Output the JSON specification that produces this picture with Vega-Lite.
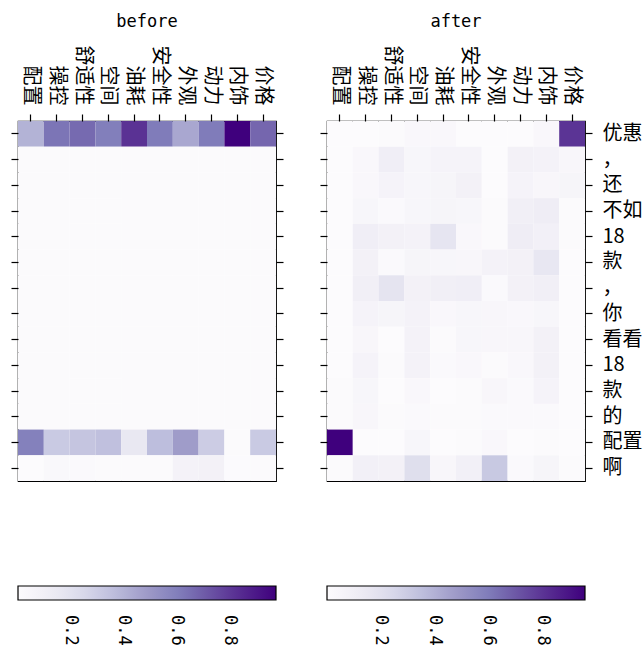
{
  "$schema": "https://vega.github.io/schema/vega-lite/v6.json",
  "padding": {"left": 9, "top": 12, "right": 0, "bottom": 0},
  "background": "white",
  "config": {
    "view": {"stroke": "black", "strokeWidth": 1.2},
    "axis": {"domain": false, "grid": false, "title": null, "tickColor": "black", "tickSize": 7, "tickWidth": 1.2, "labelColor": "black", "labelFont": "Noto Sans CJK SC", "labelFontSize": 20},
    "title": {"font": "DejaVu Sans Mono", "fontSize": 17, "fontWeight": "normal", "color": "black", "anchor": "middle", "frame": "group", "offset": 14},
    "legend": {"orient": "none", "legendX": 0, "legendY": 465, "direction": "horizontal", "title": null, "gradientLength": 258, "gradientThickness": 14, "gradientStrokeColor": "black", "gradientStrokeWidth": 1.2, "labelFont": "DejaVu Sans Mono", "labelFontSize": 17, "labelColor": "black", "labelAlign": "left", "labelBaseline": "middle", "labelOffset": 4, "labelOverlap": false}
  },
  "datasets": {
    "before": [
      {"a":"配置","r":0,"t":"优惠","w":0.40},{"a":"操控","r":0,"t":"优惠","w":0.63},{"a":"舒适性","r":0,"t":"优惠","w":0.66},{"a":"空间","r":0,"t":"优惠","w":0.60},{"a":"油耗","r":0,"t":"优惠","w":0.82},{"a":"安全性","r":0,"t":"优惠","w":0.61},{"a":"外观","r":0,"t":"优惠","w":0.44},{"a":"动力","r":0,"t":"优惠","w":0.61},{"a":"内饰","r":0,"t":"优惠","w":0.972},{"a":"价格","r":0,"t":"优惠","w":0.67},
      {"a":"配置","r":1,"t":"，","w":0.008},{"a":"操控","r":1,"t":"，","w":0.008},{"a":"舒适性","r":1,"t":"，","w":0.008},{"a":"空间","r":1,"t":"，","w":0.008},{"a":"油耗","r":1,"t":"，","w":0.008},{"a":"安全性","r":1,"t":"，","w":0.008},{"a":"外观","r":1,"t":"，","w":0.008},{"a":"动力","r":1,"t":"，","w":0.008},{"a":"内饰","r":1,"t":"，","w":0.008},{"a":"价格","r":1,"t":"，","w":0.008},
      {"a":"配置","r":2,"t":"还","w":0.008},{"a":"操控","r":2,"t":"还","w":0.008},{"a":"舒适性","r":2,"t":"还","w":0.008},{"a":"空间","r":2,"t":"还","w":0.008},{"a":"油耗","r":2,"t":"还","w":0.008},{"a":"安全性","r":2,"t":"还","w":0.008},{"a":"外观","r":2,"t":"还","w":0.008},{"a":"动力","r":2,"t":"还","w":0.008},{"a":"内饰","r":2,"t":"还","w":0.008},{"a":"价格","r":2,"t":"还","w":0.008},
      {"a":"配置","r":3,"t":"不如","w":0.008},{"a":"操控","r":3,"t":"不如","w":0.008},{"a":"舒适性","r":3,"t":"不如","w":0.008},{"a":"空间","r":3,"t":"不如","w":0.008},{"a":"油耗","r":3,"t":"不如","w":0.008},{"a":"安全性","r":3,"t":"不如","w":0.008},{"a":"外观","r":3,"t":"不如","w":0.008},{"a":"动力","r":3,"t":"不如","w":0.008},{"a":"内饰","r":3,"t":"不如","w":0.008},{"a":"价格","r":3,"t":"不如","w":0.008},
      {"a":"配置","r":4,"t":"18","w":0.008},{"a":"操控","r":4,"t":"18","w":0.008},{"a":"舒适性","r":4,"t":"18","w":0.008},{"a":"空间","r":4,"t":"18","w":0.008},{"a":"油耗","r":4,"t":"18","w":0.008},{"a":"安全性","r":4,"t":"18","w":0.008},{"a":"外观","r":4,"t":"18","w":0.008},{"a":"动力","r":4,"t":"18","w":0.008},{"a":"内饰","r":4,"t":"18","w":0.008},{"a":"价格","r":4,"t":"18","w":0.008},
      {"a":"配置","r":5,"t":"款","w":0.008},{"a":"操控","r":5,"t":"款","w":0.008},{"a":"舒适性","r":5,"t":"款","w":0.008},{"a":"空间","r":5,"t":"款","w":0.008},{"a":"油耗","r":5,"t":"款","w":0.008},{"a":"安全性","r":5,"t":"款","w":0.008},{"a":"外观","r":5,"t":"款","w":0.008},{"a":"动力","r":5,"t":"款","w":0.008},{"a":"内饰","r":5,"t":"款","w":0.008},{"a":"价格","r":5,"t":"款","w":0.008},
      {"a":"配置","r":6,"t":"，","w":0.008},{"a":"操控","r":6,"t":"，","w":0.008},{"a":"舒适性","r":6,"t":"，","w":0.008},{"a":"空间","r":6,"t":"，","w":0.008},{"a":"油耗","r":6,"t":"，","w":0.008},{"a":"安全性","r":6,"t":"，","w":0.008},{"a":"外观","r":6,"t":"，","w":0.008},{"a":"动力","r":6,"t":"，","w":0.008},{"a":"内饰","r":6,"t":"，","w":0.008},{"a":"价格","r":6,"t":"，","w":0.008},
      {"a":"配置","r":7,"t":"你","w":0.008},{"a":"操控","r":7,"t":"你","w":0.008},{"a":"舒适性","r":7,"t":"你","w":0.008},{"a":"空间","r":7,"t":"你","w":0.008},{"a":"油耗","r":7,"t":"你","w":0.008},{"a":"安全性","r":7,"t":"你","w":0.008},{"a":"外观","r":7,"t":"你","w":0.008},{"a":"动力","r":7,"t":"你","w":0.008},{"a":"内饰","r":7,"t":"你","w":0.008},{"a":"价格","r":7,"t":"你","w":0.008},
      {"a":"配置","r":8,"t":"看看","w":0.008},{"a":"操控","r":8,"t":"看看","w":0.008},{"a":"舒适性","r":8,"t":"看看","w":0.008},{"a":"空间","r":8,"t":"看看","w":0.008},{"a":"油耗","r":8,"t":"看看","w":0.008},{"a":"安全性","r":8,"t":"看看","w":0.008},{"a":"外观","r":8,"t":"看看","w":0.008},{"a":"动力","r":8,"t":"看看","w":0.008},{"a":"内饰","r":8,"t":"看看","w":0.008},{"a":"价格","r":8,"t":"看看","w":0.008},
      {"a":"配置","r":9,"t":"18","w":0.008},{"a":"操控","r":9,"t":"18","w":0.008},{"a":"舒适性","r":9,"t":"18","w":0.008},{"a":"空间","r":9,"t":"18","w":0.008},{"a":"油耗","r":9,"t":"18","w":0.008},{"a":"安全性","r":9,"t":"18","w":0.008},{"a":"外观","r":9,"t":"18","w":0.008},{"a":"动力","r":9,"t":"18","w":0.008},{"a":"内饰","r":9,"t":"18","w":0.008},{"a":"价格","r":9,"t":"18","w":0.008},
      {"a":"配置","r":10,"t":"款","w":0.008},{"a":"操控","r":10,"t":"款","w":0.008},{"a":"舒适性","r":10,"t":"款","w":0.008},{"a":"空间","r":10,"t":"款","w":0.008},{"a":"油耗","r":10,"t":"款","w":0.008},{"a":"安全性","r":10,"t":"款","w":0.008},{"a":"外观","r":10,"t":"款","w":0.008},{"a":"动力","r":10,"t":"款","w":0.008},{"a":"内饰","r":10,"t":"款","w":0.008},{"a":"价格","r":10,"t":"款","w":0.008},
      {"a":"配置","r":11,"t":"的","w":0.008},{"a":"操控","r":11,"t":"的","w":0.008},{"a":"舒适性","r":11,"t":"的","w":0.008},{"a":"空间","r":11,"t":"的","w":0.008},{"a":"油耗","r":11,"t":"的","w":0.008},{"a":"安全性","r":11,"t":"的","w":0.008},{"a":"外观","r":11,"t":"的","w":0.008},{"a":"动力","r":11,"t":"的","w":0.008},{"a":"内饰","r":11,"t":"的","w":0.008},{"a":"价格","r":11,"t":"的","w":0.008},
      {"a":"配置","r":12,"t":"配置","w":0.59},{"a":"操控","r":12,"t":"配置","w":0.31},{"a":"舒适性","r":12,"t":"配置","w":0.33},{"a":"空间","r":12,"t":"配置","w":0.35},{"a":"油耗","r":12,"t":"配置","w":0.155},{"a":"安全性","r":12,"t":"配置","w":0.36},{"a":"外观","r":12,"t":"配置","w":0.48},{"a":"动力","r":12,"t":"配置","w":0.30},{"a":"内饰","r":12,"t":"配置","w":0.01},{"a":"价格","r":12,"t":"配置","w":0.31},
      {"a":"配置","r":13,"t":"啊","w":0.0},{"a":"操控","r":13,"t":"啊","w":0.03},{"a":"舒适性","r":13,"t":"啊","w":0.02},{"a":"空间","r":13,"t":"啊","w":0.01},{"a":"油耗","r":13,"t":"啊","w":0.01},{"a":"安全性","r":13,"t":"啊","w":0.01},{"a":"外观","r":13,"t":"啊","w":0.075},{"a":"动力","r":13,"t":"啊","w":0.085},{"a":"内饰","r":13,"t":"啊","w":0.005},{"a":"价格","r":13,"t":"啊","w":0.01}
    ],
    "after": [
      {"a":"配置","r":0,"t":"优惠","w":0.0},{"a":"操控","r":0,"t":"优惠","w":0.0},{"a":"舒适性","r":0,"t":"优惠","w":0.01},{"a":"空间","r":0,"t":"优惠","w":0.03},{"a":"油耗","r":0,"t":"优惠","w":0.03},{"a":"安全性","r":0,"t":"优惠","w":0.0},{"a":"外观","r":0,"t":"优惠","w":0.0},{"a":"动力","r":0,"t":"优惠","w":0.0},{"a":"内饰","r":0,"t":"优惠","w":0.03},{"a":"价格","r":0,"t":"优惠","w":0.80},
      {"a":"配置","r":1,"t":"，","w":0.0},{"a":"操控","r":1,"t":"，","w":0.03},{"a":"舒适性","r":1,"t":"，","w":0.11},{"a":"空间","r":1,"t":"，","w":0.045},{"a":"油耗","r":1,"t":"，","w":0.065},{"a":"安全性","r":1,"t":"，","w":0.065},{"a":"外观","r":1,"t":"，","w":0.0},{"a":"动力","r":1,"t":"，","w":0.085},{"a":"内饰","r":1,"t":"，","w":0.075},{"a":"价格","r":1,"t":"，","w":0.04},
      {"a":"配置","r":2,"t":"还","w":0.0},{"a":"操控","r":2,"t":"还","w":0.03},{"a":"舒适性","r":2,"t":"还","w":0.065},{"a":"空间","r":2,"t":"还","w":0.045},{"a":"油耗","r":2,"t":"还","w":0.055},{"a":"安全性","r":2,"t":"还","w":0.085},{"a":"外观","r":2,"t":"还","w":0.0},{"a":"动力","r":2,"t":"还","w":0.065},{"a":"内饰","r":2,"t":"还","w":0.04},{"a":"价格","r":2,"t":"还","w":0.055},
      {"a":"配置","r":3,"t":"不如","w":0.0},{"a":"操控","r":3,"t":"不如","w":0.045},{"a":"舒适性","r":3,"t":"不如","w":0.02},{"a":"空间","r":3,"t":"不如","w":0.045},{"a":"油耗","r":3,"t":"不如","w":0.055},{"a":"安全性","r":3,"t":"不如","w":0.045},{"a":"外观","r":3,"t":"不如","w":0.01},{"a":"动力","r":3,"t":"不如","w":0.10},{"a":"内饰","r":3,"t":"不如","w":0.12},{"a":"价格","r":3,"t":"不如","w":0.01},
      {"a":"配置","r":4,"t":"18","w":0.0},{"a":"操控","r":4,"t":"18","w":0.11},{"a":"舒适性","r":4,"t":"18","w":0.085},{"a":"空间","r":4,"t":"18","w":0.075},{"a":"油耗","r":4,"t":"18","w":0.17},{"a":"安全性","r":4,"t":"18","w":0.03},{"a":"外观","r":4,"t":"18","w":0.01},{"a":"动力","r":4,"t":"18","w":0.12},{"a":"内饰","r":4,"t":"18","w":0.095},{"a":"价格","r":4,"t":"18","w":0.01},
      {"a":"配置","r":5,"t":"款","w":0.0},{"a":"操控","r":5,"t":"款","w":0.085},{"a":"舒适性","r":5,"t":"款","w":0.02},{"a":"空间","r":5,"t":"款","w":0.055},{"a":"油耗","r":5,"t":"款","w":0.045},{"a":"安全性","r":5,"t":"款","w":0.04},{"a":"外观","r":5,"t":"款","w":0.075},{"a":"动力","r":5,"t":"款","w":0.085},{"a":"内饰","r":5,"t":"款","w":0.16},{"a":"价格","r":5,"t":"款","w":0.0},
      {"a":"配置","r":6,"t":"，","w":0.0},{"a":"操控","r":6,"t":"，","w":0.10},{"a":"舒适性","r":6,"t":"，","w":0.175},{"a":"空间","r":6,"t":"，","w":0.085},{"a":"油耗","r":6,"t":"，","w":0.10},{"a":"安全性","r":6,"t":"，","w":0.11},{"a":"外观","r":6,"t":"，","w":0.02},{"a":"动力","r":6,"t":"，","w":0.085},{"a":"内饰","r":6,"t":"，","w":0.10},{"a":"价格","r":6,"t":"，","w":0.0},
      {"a":"配置","r":7,"t":"你","w":0.0},{"a":"操控","r":7,"t":"你","w":0.065},{"a":"舒适性","r":7,"t":"你","w":0.055},{"a":"空间","r":7,"t":"你","w":0.075},{"a":"油耗","r":7,"t":"你","w":0.03},{"a":"安全性","r":7,"t":"你","w":0.045},{"a":"外观","r":7,"t":"你","w":0.04},{"a":"动力","r":7,"t":"你","w":0.03},{"a":"内饰","r":7,"t":"你","w":0.045},{"a":"价格","r":7,"t":"你","w":0.0},
      {"a":"配置","r":8,"t":"看看","w":0.0},{"a":"操控","r":8,"t":"看看","w":0.04},{"a":"舒适性","r":8,"t":"看看","w":0.0},{"a":"空间","r":8,"t":"看看","w":0.075},{"a":"油耗","r":8,"t":"看看","w":0.01},{"a":"安全性","r":8,"t":"看看","w":0.045},{"a":"外观","r":8,"t":"看看","w":0.04},{"a":"动力","r":8,"t":"看看","w":0.04},{"a":"内饰","r":8,"t":"看看","w":0.085},{"a":"价格","r":8,"t":"看看","w":0.0},
      {"a":"配置","r":9,"t":"18","w":0.0},{"a":"操控","r":9,"t":"18","w":0.065},{"a":"舒适性","r":9,"t":"18","w":0.01},{"a":"空间","r":9,"t":"18","w":0.075},{"a":"油耗","r":9,"t":"18","w":0.02},{"a":"安全性","r":9,"t":"18","w":0.03},{"a":"外观","r":9,"t":"18","w":0.01},{"a":"动力","r":9,"t":"18","w":0.03},{"a":"内饰","r":9,"t":"18","w":0.085},{"a":"价格","r":9,"t":"18","w":0.0},
      {"a":"配置","r":10,"t":"款","w":0.01},{"a":"操控","r":10,"t":"款","w":0.045},{"a":"舒适性","r":10,"t":"款","w":0.0},{"a":"空间","r":10,"t":"款","w":0.03},{"a":"油耗","r":10,"t":"款","w":0.0},{"a":"安全性","r":10,"t":"款","w":0.01},{"a":"外观","r":10,"t":"款","w":0.04},{"a":"动力","r":10,"t":"款","w":0.02},{"a":"内饰","r":10,"t":"款","w":0.065},{"a":"价格","r":10,"t":"款","w":0.0},
      {"a":"配置","r":11,"t":"的","w":0.01},{"a":"操控","r":11,"t":"的","w":0.04},{"a":"舒适性","r":11,"t":"的","w":0.01},{"a":"空间","r":11,"t":"的","w":0.02},{"a":"油耗","r":11,"t":"的","w":0.01},{"a":"安全性","r":11,"t":"的","w":0.01},{"a":"外观","r":11,"t":"的","w":0.02},{"a":"动力","r":11,"t":"的","w":0.02},{"a":"内饰","r":11,"t":"的","w":0.02},{"a":"价格","r":11,"t":"的","w":0.0},
      {"a":"配置","r":12,"t":"配置","w":0.957},{"a":"操控","r":12,"t":"配置","w":0.0},{"a":"舒适性","r":12,"t":"配置","w":0.0},{"a":"空间","r":12,"t":"配置","w":0.045},{"a":"油耗","r":12,"t":"配置","w":0.0},{"a":"安全性","r":12,"t":"配置","w":0.01},{"a":"外观","r":12,"t":"配置","w":0.03},{"a":"动力","r":12,"t":"配置","w":0.0},{"a":"内饰","r":12,"t":"配置","w":0.01},{"a":"价格","r":12,"t":"配置","w":0.0},
      {"a":"配置","r":13,"t":"啊","w":0.01},{"a":"操控","r":13,"t":"啊","w":0.095},{"a":"舒适性","r":13,"t":"啊","w":0.085},{"a":"空间","r":13,"t":"啊","w":0.21},{"a":"油耗","r":13,"t":"啊","w":0.04},{"a":"安全性","r":13,"t":"啊","w":0.095},{"a":"外观","r":13,"t":"啊","w":0.31},{"a":"动力","r":13,"t":"啊","w":0.02},{"a":"内饰","r":13,"t":"啊","w":0.055},{"a":"价格","r":13,"t":"啊","w":0.01}
    ]
  },
  "spacing": 51,
  "bounds": "flush",
  "resolve": {"scale": {"color": "independent"}, "legend": {"color": "independent"}},
  "hconcat": [
    {
      "title": "before",
      "width": 258,
      "height": 360,
      "data": {"name": "before"},
      "layer": [
        {
          "mark": {"type": "rect"},
          "encoding": {
            "x": {"field": "a", "type": "nominal", "sort": ["配置","操控","舒适性","空间","油耗","安全性","外观","动力","内饰","价格"], "axis": {"orient": "top", "labelAngle": 90, "labelAlign": "right", "labelBaseline": "middle", "labelPadding": 9}},
            "y": {"field": "r", "type": "ordinal", "axis": {"orient": "left", "labels": false}},
            "color": {"field": "w", "type": "quantitative", "scale": {"domain": [0, 0.1215, 0.243, 0.3645, 0.486, 0.6075, 0.729, 0.8505, 0.972], "range": ["#fcfbfd","#efedf5","#dadaeb","#bcbddc","#9e9ac8","#807dba","#6a51a3","#54278f","#3f007d"], "interpolate": "rgb"}, "legend": {"values": [0.2, 0.4, 0.6, 0.8], "format": ".1f", "encoding": {"labels": {"angle": {"value": 90}, "align": {"value": "left"}, "baseline": {"value": "middle"}, "dx": {"value": 13}}}}}
          }
        },
        {
          "mark": {"type": "rect", "opacity": 0},
          "encoding": {
            "y": {"field": "r", "type": "ordinal", "axis": {"orient": "right", "labels": false}}
          }
        }
      ],
      "resolve": {"axis": {"y": "independent"}}
    },
    {
      "title": "after",
      "width": 258,
      "height": 360,
      "data": {"name": "after"},
      "layer": [
        {
          "mark": {"type": "rect"},
          "encoding": {
            "x": {"field": "a", "type": "nominal", "sort": ["配置","操控","舒适性","空间","油耗","安全性","外观","动力","内饰","价格"], "axis": {"orient": "top", "labelAngle": 90, "labelAlign": "right", "labelBaseline": "middle", "labelPadding": 9}},
            "y": {"field": "r", "type": "ordinal", "axis": {"orient": "left", "labels": false}},
            "color": {"field": "w", "type": "quantitative", "scale": {"domain": [0, 0.1196, 0.2393, 0.3589, 0.4785, 0.5981, 0.7178, 0.8374, 0.957], "range": ["#fcfbfd","#efedf5","#dadaeb","#bcbddc","#9e9ac8","#807dba","#6a51a3","#54278f","#3f007d"], "interpolate": "rgb"}, "legend": {"values": [0.2, 0.4, 0.6, 0.8], "format": ".1f", "encoding": {"labels": {"angle": {"value": 90}, "align": {"value": "left"}, "baseline": {"value": "middle"}, "dx": {"value": 13}}}}}
          }
        },
        {
          "mark": {"type": "rect", "opacity": 0},
          "encoding": {
            "y": {"field": "r", "type": "ordinal", "axis": {"orient": "right", "labelPadding": 10, "labelAlign": "left", "labelExpr": "['优惠','，','还','不如','18','款','，','你','看看','18','款','的','配置','啊'][datum.value]"}}
          }
        }
      ],
      "resolve": {"axis": {"y": "independent"}}
    }
  ]
}
